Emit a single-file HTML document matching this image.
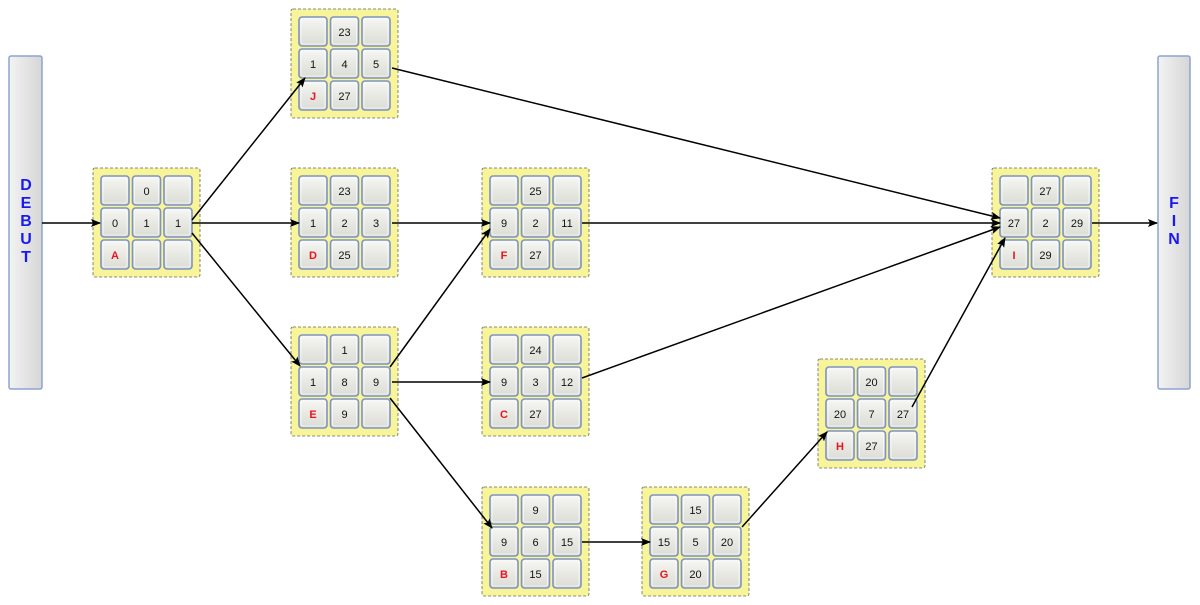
<!DOCTYPE html>
<html><head><meta charset="utf-8"><style>
html,body{margin:0;padding:0;background:#fff;width:1200px;height:605px;overflow:hidden}
</style></head><body>
<svg width="1200" height="605" viewBox="0 0 1200 605" xmlns="http://www.w3.org/2000/svg" xmlns:xlink="http://www.w3.org/1999/xlink" font-family="Liberation Sans, sans-serif">
<defs>
<linearGradient id="cg" x1="0" y1="0" x2="0" y2="1"><stop offset="0" stop-color="#f6f6f3"/><stop offset="1" stop-color="#dcdcd6"/></linearGradient>
<linearGradient id="bg" x1="0" y1="0" x2="1" y2="0"><stop offset="0" stop-color="#f3f3f3"/><stop offset="1" stop-color="#d6d6d6"/></linearGradient>
<marker id="ar" markerWidth="10" markerHeight="8" refX="9" refY="4" orient="auto" markerUnits="userSpaceOnUse"><path d="M0,0 L10,4 L0,8 L2,4 z" fill="#000"/></marker>
<g id="cell"><rect x="0" y="0" width="28" height="29" rx="3" fill="url(#cg)" stroke="#7f93c0" stroke-width="1.6"/><rect x="2" y="2" width="24" height="25" rx="2" fill="none" stroke="#ffffff" stroke-width="0.8" opacity="0.7"/></g>
<g id="grid">
<rect x="0" y="0" width="107" height="109" fill="#f7f49a" stroke="#666" stroke-dasharray="3,2" stroke-width="0.8" rx="2"/>
<use xlink:href="#cell" x="8" y="8"/><use xlink:href="#cell" x="39.5" y="8"/><use xlink:href="#cell" x="71" y="8"/>
<use xlink:href="#cell" x="8" y="40"/><use xlink:href="#cell" x="39.5" y="40"/><use xlink:href="#cell" x="71" y="40"/>
<use xlink:href="#cell" x="8" y="72"/><use xlink:href="#cell" x="39.5" y="72"/><use xlink:href="#cell" x="71" y="72"/>
</g>
</defs>
<rect x="9" y="56" width="33" height="333" fill="url(#bg)" stroke="#8ea3d0" stroke-width="1.5" rx="2"/>
<rect x="1158" y="56" width="32" height="333" fill="url(#bg)" stroke="#8ea3d0" stroke-width="1.5" rx="2"/>
<g fill="#1a1aee" style="font-weight:bold;font-size:16px" text-anchor="middle">
<text x="26" y="190">D</text><text x="26" y="208">E</text><text x="26" y="226">B</text><text x="26" y="244">U</text><text x="26" y="262">T</text>
<text x="1174" y="208">F</text><text x="1174" y="226">I</text><text x="1174" y="244">N</text>
</g>

<use xlink:href="#grid" x="93" y="168"/>
<use xlink:href="#grid" x="291" y="9"/>
<use xlink:href="#grid" x="291" y="168"/>
<use xlink:href="#grid" x="291" y="327"/>
<use xlink:href="#grid" x="482" y="168"/>
<use xlink:href="#grid" x="482" y="327"/>
<use xlink:href="#grid" x="482" y="487"/>
<use xlink:href="#grid" x="642" y="487"/>
<use xlink:href="#grid" x="818" y="359"/>
<use xlink:href="#grid" x="992" y="168"/>

<g style="font-size:11px" fill="#111" text-anchor="middle">
<g transform="translate(93,168)"><text x="53.5" y="27">0</text><text x="22" y="59">0</text><text x="53.5" y="59">1</text><text x="85" y="59">1</text></g>
<g transform="translate(291,9)"><text x="53.5" y="27">23</text><text x="22" y="59">1</text><text x="53.5" y="59">4</text><text x="85" y="59">5</text><text x="53.5" y="91">27</text></g>
<g transform="translate(291,168)"><text x="53.5" y="27">23</text><text x="22" y="59">1</text><text x="53.5" y="59">2</text><text x="85" y="59">3</text><text x="53.5" y="91">25</text></g>
<g transform="translate(291,327)"><text x="53.5" y="27">1</text><text x="22" y="59">1</text><text x="53.5" y="59">8</text><text x="85" y="59">9</text><text x="53.5" y="91">9</text></g>
<g transform="translate(482,168)"><text x="53.5" y="27">25</text><text x="22" y="59">9</text><text x="53.5" y="59">2</text><text x="85" y="59">11</text><text x="53.5" y="91">27</text></g>
<g transform="translate(482,327)"><text x="53.5" y="27">24</text><text x="22" y="59">9</text><text x="53.5" y="59">3</text><text x="85" y="59">12</text><text x="53.5" y="91">27</text></g>
<g transform="translate(482,487)"><text x="53.5" y="27">9</text><text x="22" y="59">9</text><text x="53.5" y="59">6</text><text x="85" y="59">15</text><text x="53.5" y="91">15</text></g>
<g transform="translate(642,487)"><text x="53.5" y="27">15</text><text x="22" y="59">15</text><text x="53.5" y="59">5</text><text x="85" y="59">20</text><text x="53.5" y="91">20</text></g>
<g transform="translate(818,359)"><text x="53.5" y="27">20</text><text x="22" y="59">20</text><text x="53.5" y="59">7</text><text x="85" y="59">27</text><text x="53.5" y="91">27</text></g>
<g transform="translate(992,168)"><text x="53.5" y="27">27</text><text x="22" y="59">27</text><text x="53.5" y="59">2</text><text x="85" y="59">29</text><text x="53.5" y="91">29</text></g>
</g>
<g style="font-size:11px;font-weight:bold" fill="#e8141e" text-anchor="middle">
<text x="115" y="259">A</text><text x="313" y="100">J</text><text x="313" y="259">D</text><text x="313" y="418">E</text>
<text x="504" y="259">F</text><text x="504" y="418">C</text><text x="504" y="578">B</text><text x="664" y="578">G</text>
<text x="840" y="450">H</text><text x="1014" y="259">I</text>
</g>

<g stroke="#000" stroke-width="1.5" fill="none" marker-end="url(#ar)">
<line x1="42" y1="223" x2="100" y2="223"/>
<line x1="192" y1="220" x2="305" y2="78"/>
<line x1="192" y1="223" x2="299" y2="223"/>
<line x1="192" y1="233" x2="300" y2="366"/>
<line x1="392" y1="68" x2="1000" y2="218"/>
<line x1="392" y1="223" x2="490" y2="223"/>
<line x1="390" y1="367" x2="490" y2="229"/>
<line x1="392" y1="382" x2="490" y2="382"/>
<line x1="390" y1="398" x2="492" y2="528"/>
<line x1="582" y1="223" x2="1000" y2="223"/>
<line x1="582" y1="378" x2="1000" y2="227"/>
<line x1="582" y1="542" x2="650" y2="542"/>
<line x1="742" y1="527" x2="827" y2="432"/>
<line x1="912" y1="407" x2="1005" y2="238"/>
<line x1="1092" y1="223" x2="1157" y2="223"/>
</g>
</svg>
</body></html>
